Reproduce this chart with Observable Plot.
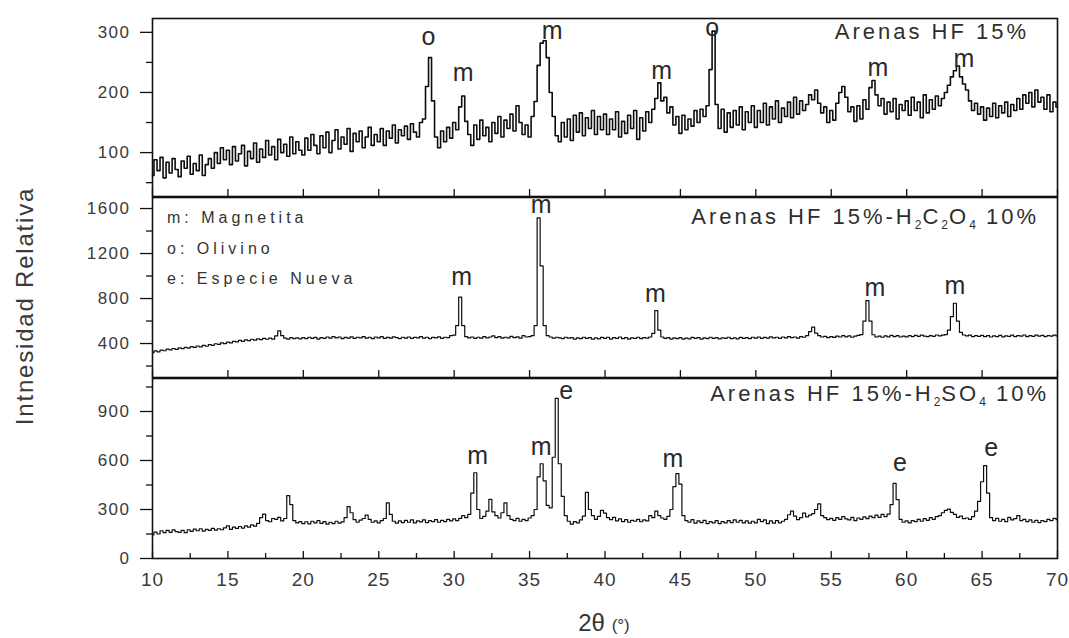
<!DOCTYPE html>
<html><head><meta charset="utf-8">
<script src="https://cdn.jsdelivr.net/npm/d3@7"></script>
<script src="https://cdn.jsdelivr.net/npm/@observablehq/plot@0.6"></script>
<style>
html,body{margin:0;padding:0;background:#fff}
#wrap{position:relative;width:1069px;height:638px;overflow:hidden;font-family:"Liberation Sans",Arial,Helvetica,sans-serif}
.panel{position:absolute;left:0}
.panel svg{overflow:visible}
.ttl{position:absolute;font-size:22px;line-height:20px;color:#2e2e2e;white-space:nowrap;letter-spacing:3px}
.ttl sub{font-size:12px;vertical-align:-5px;line-height:0;letter-spacing:1px}
.leg{position:absolute;left:167px;font-size:16px;line-height:16px;color:#333;letter-spacing:4px;white-space:nowrap}
#ylab{position:absolute;left:-125px;top:293px;width:300px;height:26px;line-height:26px;text-align:center;font-size:24px;color:#3a3a3a;letter-spacing:1.8px;transform:rotate(-90deg);white-space:nowrap}
#xlab{position:absolute;left:504px;top:611px;width:200px;text-align:center;font-size:24px;line-height:24px;color:#333;white-space:nowrap}
#xlab span{font-size:17px}
g[aria-label="y-axis tick label"] text{letter-spacing:1.5px}
g[aria-label="x-axis tick label"] text{letter-spacing:1px}
</style></head>
<body><div id="wrap"></div>
<script>
// 2θ grid: 10° to 70°, step 0.2°
const thetaStart = 10, thetaStep = 0.2;

// Arenas HF 15%
const hf = [
62,88,70,92,58,84,66,90,72,60,86,74,94,64,82,70,96,62,80,90,74,100,82,108,88,
104,80,110,86,98,112,78,102,90,116,84,106,92,120,96,110,88,122,100,114,94,126,98,118,104,
96,124,104,130,112,98,128,108,134,100,120,138,106,126,114,140,102,132,118,136,108,126,142,112,130,
118,140,112,136,124,146,116,138,128,144,122,148,134,126,150,156,210,258,186,126,108,136,118,142,124,
150,138,176,194,152,130,112,146,122,154,128,142,118,150,132,160,126,154,140,164,136,178,150,130,146,
126,160,185,245,282,286,258,200,160,128,118,150,126,156,120,162,134,166,128,158,140,170,130,160,138,
164,130,156,138,168,126,152,132,162,140,170,122,158,136,168,150,172,190,216,186,192,166,176,146,160,
132,162,138,156,144,170,150,172,160,178,238,302,180,140,172,134,166,142,170,146,176,138,168,150,178,
142,170,150,182,146,176,156,186,150,174,160,184,158,192,164,186,170,180,196,188,204,182,166,176,150,
170,154,182,200,210,192,168,176,152,178,156,188,172,208,220,196,178,190,164,184,168,190,156,180,170,
186,162,192,170,184,158,196,166,188,172,194,178,190,200,212,226,236,244,226,214,204,186,170,182,164,
176,154,174,160,182,158,178,166,184,160,180,170,190,172,196,182,200,176,204,184,192,172,196,168,184,176
];
// Arenas HF 15% - H2C2O4 10%
const hfOx = [
318,335,326,342,336,350,344,356,348,362,355,366,360,372,365,378,370,384,376,390,384,398,392,406,400,
412,405,420,414,428,420,432,426,438,430,442,434,446,438,448,440,468,512,470,448,440,452,444,450,442,
452,444,456,446,454,440,452,446,458,448,462,450,458,444,455,448,460,446,456,450,462,448,456,444,458,
450,462,446,455,448,460,452,444,456,448,458,446,455,450,462,448,456,444,454,450,460,446,456,452,470,
475,560,812,560,462,450,458,446,456,448,462,450,458,468,452,462,448,456,450,464,452,460,448,470,458,
462,470,560,1517,1090,560,470,458,448,456,450,444,456,448,452,440,450,444,456,446,452,440,450,442,454,
446,456,440,452,446,458,444,452,440,450,446,456,444,452,448,458,490,693,520,458,446,452,440,450,444,
452,440,448,442,454,446,452,440,450,444,456,446,452,442,450,446,456,444,450,442,454,446,452,444,456,
448,458,446,454,448,460,450,456,446,458,450,462,452,458,448,462,456,470,505,545,492,470,458,464,452,
462,454,466,458,470,460,468,456,466,472,480,600,782,600,478,458,466,456,468,460,472,462,470,458,466,
460,470,462,472,464,474,466,462,470,464,476,468,474,480,520,640,758,600,500,476,468,474,462,470,464,
472,462,470,458,468,462,472,460,468,464,474,462,470,466,476,462,470,464,474,466,472,462,470,466,474,468
];
// Arenas HF 15% - H2SO4 10%
const hfSu = [
145,162,150,170,158,172,160,175,165,160,172,158,176,166,180,170,182,168,178,172,185,174,182,176,188,
200,178,192,184,196,186,200,192,206,198,215,250,272,232,225,245,240,252,230,245,385,330,232,218,226,
214,225,212,228,218,232,215,226,210,222,214,228,216,224,250,318,280,238,222,235,245,265,240,222,230,
218,232,245,340,270,228,216,230,220,234,222,236,218,230,224,236,220,232,226,238,222,234,226,240,230,
242,232,246,262,250,270,400,525,300,245,258,290,362,285,262,248,280,340,262,240,232,246,228,240,232,
248,262,300,500,580,475,325,310,620,980,580,380,262,228,210,226,218,236,260,405,300,262,240,258,295,
278,250,238,252,230,242,226,238,222,234,228,240,225,236,230,262,250,290,262,248,240,258,300,440,520,
455,262,232,222,238,216,230,220,234,214,226,218,232,214,226,218,232,220,236,222,234,218,230,216,228,
218,240,226,236,214,230,216,232,218,228,240,268,290,260,238,250,278,255,266,275,300,335,262,250,238,
246,234,250,240,256,242,236,252,232,248,240,255,244,260,250,266,252,270,256,272,330,460,360,240,222,
230,218,232,226,240,228,244,234,250,240,256,262,280,295,302,282,270,252,260,244,248,240,256,290,350,
470,568,400,250,232,246,228,240,226,252,236,244,262,232,240,226,236,222,234,220,232,226,240,232,246,238
];

// peak labels
const pkHFText = ["o","m","m","m","o","m","m"];
const pkHFX = [28.3,30.6,36.5,43.75,47.1,58.1,63.8];
const pkHFY = [292,232,302,235,307,240,256];
const pkOxText = ["m","m","m","m","m"];
const pkOxX = [30.5,35.76,43.35,57.9,63.2];
const pkOxY = [989,1627,842,895,907];
const pkSuText = ["m","m","e","m","e","e"];
const pkSuX = [31.55,35.76,37.42,44.5,59.55,65.6];
const pkSuY = [629,680,1027,608,583,676];

// ticks
const xTicks = [10,15,20,25,30,35,40,45,50,55,60,65,70];
const xMinor = [12.5,17.5,22.5,27.5,32.5,37.5,42.5,47.5,52.5,57.5,62.5,67.5];
const yTicksHF = [100,200,300], yMinorHF = [50,150,250];
const yTicksOx = [400,800,1200,1600], yMinorOx = [200,600,1000,1400];
const yTicksSu = [0,300,600,900], yMinorSu = [150,450,750,1050];

// texts
const titleHF = "Arenas HF 15%";
const titleOx = ["Arenas HF 15%-H","2","C","2","O","4"," 10%"];
const titleSu = ["Arenas HF 15%-H","2","SO","4"," 10%"];
const legendLines = ["m: Magnetita","o: Olivino","e: Especie Nueva"];
const yLabel = "Intnesidad Relativa";
const xLabel = ["2θ ","(°)"];

const toRows = arr => arr.map((v, i) => ({x: thetaStart + i * thetaStep, y: v}));
const toLabels = (t, xs, ys) => t.map((s, i) => ({text: s, x: xs[i], y: ys[i]}));

const wrap = document.getElementById("wrap");
const FONT = '"Liberation Sans", Arial, Helvetica, sans-serif';

function panel({data, domain, yT, yM, labels, top, height, mt, mb, bottom, sw}) {
  const fh = height - mt - mb;
  const marks = [
    Plot.line(toRows(data), {x: "x", y: "y", curve: "step", stroke: "#0d0d0d", strokeWidth: sw}),
    Plot.text(labels, {x: "x", y: "y", text: "text", fontSize: 25, fill: "#2a2a2a"}),
    Plot.axisY(yT, {tickSize: 12, tickPadding: 10, fontSize: 17, label: null, fill: "#3a3a3a", stroke: "#111", strokeWidth: 1.3, tickFormat: d => String(d)}),
    Plot.axisY(yM, {tickSize: 6, text: null, label: null, stroke: "#111", strokeWidth: 1.3}),
    Plot.ruleX(xTicks, {stroke: "#111", strokeWidth: 1.3, insetTop: fh - 7}),
    Plot.frame({stroke: "#111", strokeWidth: 1.6})
  ];
  if (bottom) {
    marks.push(Plot.ruleX(xMinor, {stroke: "#111", strokeWidth: 1.3, insetTop: fh - 5}));
    marks.push(Plot.axisX(xTicks, {tickSize: 0, tickPadding: 14, fontSize: 19, label: null, fill: "#3a3a3a", tickFormat: d => String(d)}));
  } else {
    marks.push(Plot.axisX({ticks: [], label: null}));
  }
  const p = Plot.plot({
    width: 1069, height, marginLeft: 152, marginRight: 12, marginTop: mt, marginBottom: mb,
    x: {domain: [10, 70]}, y: {domain},
    style: {fontFamily: FONT, background: "transparent", color: "#111", overflow: "visible"},
    marks
  });
  const d = document.createElement("div");
  d.className = "panel";
  d.style.top = top + "px";
  d.appendChild(p);
  wrap.appendChild(d);
}

panel({data: hf, domain: [27, 323], yT: yTicksHF, yM: yMinorHF, labels: toLabels(pkHFText, pkHFX, pkHFY), top: 0, height: 200, mt: 18, mb: 4, bottom: false, sw: 1.6});
panel({data: hfOx, domain: [98, 1698], yT: yTicksOx, yM: yMinorOx, labels: toLabels(pkOxText, pkOxX, pkOxY), top: 196, height: 185, mt: 1, mb: 4, bottom: false, sw: 1.2});
panel({data: hfSu, domain: [0, 1102], yT: yTicksSu, yM: yMinorSu, labels: toLabels(pkSuText, pkSuX, pkSuY), top: 376, height: 262, mt: 2, mb: 80, bottom: true, sw: 1.2});

function addDiv(cls, id, html, css) {
  const d = document.createElement("div");
  if (cls) d.className = cls;
  if (id) d.id = id;
  d.innerHTML = html;
  Object.assign(d.style, css || {});
  wrap.appendChild(d);
  return d;
}
const chem = parts => parts.map(s => /^\d$/.test(s) ? `<sub>${s}</sub>` : s).join("");
addDiv("ttl", null, titleHF, {right: "40px", top: "22px"});
addDiv("ttl", null, chem(titleOx), {right: "30px", top: "207px"});
addDiv("ttl", null, chem(titleSu), {right: "20px", top: "384px"});
[210, 241, 271].forEach((t, i) => addDiv("leg", null, legendLines[i], {top: t + "px"}));
addDiv(null, "ylab", yLabel);
addDiv(null, "xlab", `${xLabel[0]}<span>${xLabel[1]}</span>`);
</script>
</body></html>
